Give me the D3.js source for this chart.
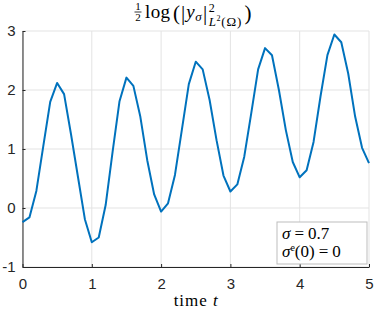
<!DOCTYPE html>
<html>
<head>
<meta charset="utf-8">
<script src="https://cdn.jsdelivr.net/npm/d3@7"></script>
<style>
  body { margin: 0; background: #fff; }
  svg { display: block; }
</style>
</head>
<body>
<div id="chart"></div>
<script>
const times = d3.range(0, 51).map(i => i / 10)
const logNorm = [
  -0.24, -0.16, 0.29, 1.05, 1.80, 2.12, 1.93, 1.25, 0.53, -0.19,
  -0.58, -0.50, 0.05, 0.95, 1.81, 2.21, 2.07, 1.55, 0.81, 0.23,
  -0.06, 0.08, 0.56, 1.33, 2.10, 2.48, 2.35, 1.83, 1.15, 0.55,
  0.28, 0.40, 0.87, 1.60, 2.35, 2.71, 2.59, 2.00, 1.32, 0.78,
  0.52, 0.64, 1.12, 1.89, 2.59, 2.94, 2.81, 2.28, 1.55, 1.02,
  0.76
]
const xTicks = [0, 1, 2, 3, 4, 5]
const yTicks = [-1, 0, 1, 2, 3]

const W = 374, H = 312
const margin = {top: 31, right: 5, bottom: 45, left: 22.5}
const width = W - margin.left - margin.right
const height = H - margin.top - margin.bottom
const serif = "'Liberation Serif', 'DejaVu Serif', serif"
const sans = "'Liberation Sans', Arial, sans-serif"

const x = d3.scaleLinear().domain([0, 5]).range([0, width])
const y = d3.scaleLinear().domain([-1, 3]).range([height, 0])

const svg = d3.select("#chart").append("svg")
  .attr("width", W).attr("height", H)

const g = svg.append("g")
  .attr("transform", `translate(${margin.left},${margin.top})`)

// grid
g.append("g").selectAll("line").data(xTicks).enter().append("line")
  .attr("x1", d => x(d)).attr("x2", d => x(d))
  .attr("y1", 0).attr("y2", height)
  .attr("stroke", "#e3e3e3").attr("stroke-width", 1)
g.append("g").selectAll("line").data(yTicks).enter().append("line")
  .attr("y1", d => y(d)).attr("y2", d => y(d))
  .attr("x1", 0).attr("x2", width)
  .attr("stroke", "#e3e3e3").attr("stroke-width", 1)

// axes (ticks inward like matlab), plain hyphen for negatives
const xAxis = g.append("g")
  .attr("transform", `translate(0,${height})`)
  .call(d3.axisBottom(x).tickValues(xTicks).tickFormat(d => String(d))
    .tickSizeInner(-3).tickSizeOuter(0).tickPadding(11))
const yAxis = g.append("g")
  .call(d3.axisLeft(y).tickValues(yTicks).tickFormat(d => String(d))
    .tickSizeInner(-3).tickSizeOuter(0).tickPadding(7))
;[xAxis, yAxis].forEach(a => {
  a.select(".domain").attr("stroke", "#262626")
  a.selectAll(".tick line").attr("stroke", "#262626")
  a.selectAll("text").attr("fill", "#262626")
    .style("font-family", sans).style("font-size", "15px")
})
yAxis.selectAll("text").attr("text-anchor", "end")

// the curve
const line = d3.line()
  .x((d, i) => x(times[i]))
  .y(d => y(d))
g.append("path")
  .datum(logNorm)
  .attr("fill", "none")
  .attr("stroke", "#0072BD")
  .attr("stroke-width", 2)
  .attr("stroke-linejoin", "round")
  .attr("d", line)

// legend box
const lg = g.append("g").attr("transform", `translate(${width - 92},${height - 45})`)
lg.append("rect")
  .attr("width", 90).attr("height", 42)
  .attr("fill", "#fff").attr("stroke", "#bdbdbd").attr("stroke-width", 1)
const l1 = lg.append("text").attr("x", 5).attr("y", 17)
  .style("font-family", serif).style("font-size", "17px").attr("fill", "#000")
l1.append("tspan").style("font-style", "italic").text("σ")
l1.append("tspan").attr("dx", 4).text("=")
l1.append("tspan").attr("dx", 4).text("0.7")
const l2 = lg.append("text").attr("x", 5).attr("y", 35)
  .style("font-family", serif).style("font-size", "17px").attr("fill", "#000")
l2.append("tspan").style("font-style", "italic").text("σ")
l2.append("tspan").attr("dy", -6).style("font-size", "10px").text("e")
l2.append("tspan").attr("dy", 6).text("(0)")
l2.append("tspan").attr("dx", 4).text("=")
l2.append("tspan").attr("dx", 4).text("0")

// title: 1/2 log(|y_sigma|^2_{L^2(Omega)}), laid out piece by piece
const tg = svg.append("g")
const fracX = 138
tg.append("text").attr("x", fracX).attr("y", 10).attr("text-anchor", "middle")
  .style("font-family", serif).style("font-size", "11px").text("1")
tg.append("line").attr("x1", fracX - 3.5).attr("x2", fracX + 3.5).attr("y1", 12).attr("y2", 12)
  .attr("stroke", "#000").attr("stroke-width", 0.8)
tg.append("text").attr("x", fracX).attr("y", 21).attr("text-anchor", "middle")
  .style("font-family", serif).style("font-size", "11px").text("2")

let cx = 145
function piece(str, size, base, italic, gapAfter, ls) {
  const t = tg.append("text").attr("x", cx).attr("y", base)
    .style("font-family", serif).style("font-size", size + "px")
    .style("font-style", italic ? "italic" : "normal")
    .attr("letter-spacing", ls || 0)
    .attr("fill", "#000").text(str)
  const w = t.node().getComputedTextLength()
  cx += w + (gapAfter || 0)
  return w
}
piece("log", 19, 18, false, 2.5, 0.4)
piece("(", 21, 19.5, false, 1)
piece("|", 21, 19.5, false, 1)
piece("y", 19, 18, true, 0.5)
piece("σ", 13, 21, true, 1.5)
piece("|", 21, 19.5, false, 1.5)
const supX = cx
piece("2", 12, 12, false, 0)
cx = supX
piece("L", 13, 25.5, true, 0.5)
piece("2", 8, 21, false, 0.8)
piece("(Ω)", 13, 25.5, false, 2.5, 0.8)
piece(")", 21, 19.5, false, 0)

// x label
const xl = svg.append("text")
  .attr("x", margin.left + width / 2).attr("y", 306)
  .attr("text-anchor", "middle")
  .style("font-family", serif).style("font-size", "17px").attr("fill", "#000")
xl.append("tspan").attr("letter-spacing", 1).text("time ")
xl.append("tspan").style("font-style", "italic").text("t")
</script>
</body>
</html>
